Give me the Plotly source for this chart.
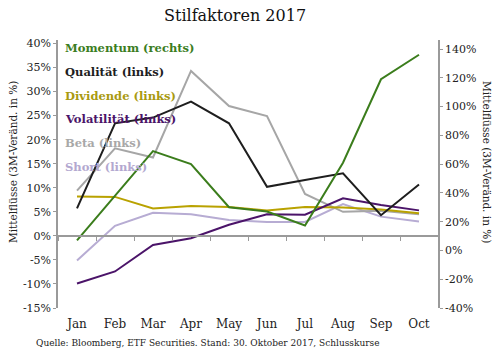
import plotly.graph_objects as go

months = ["Jan", "Feb", "Mar", "Apr", "May", "Jun", "Jul", "Aug", "Sep", "Oct"]
momentum = [7, 38, 69, 60, 30, 27, 17.4, 61, 119, 136]          # right axis
qualitaet = [5.7, 23.4, 24.6, 27.9, 23.4, 10.2, 11.6, 13.0, 4.3, 10.7]
dividende = [8.2, 8.1, 5.7, 6.2, 6.0, 5.3, 6.0, 5.9, 5.5, 4.7]
volatilitaet = [-9.9, -7.4, -1.9, -0.5, 2.3, 4.5, 4.4, 7.8, 6.4, 5.3]
beta = [9.4, 18.2, 16.3, 34.3, 27.0, 24.9, 8.7, 5.0, 5.2, 4.5]
short = [-5.1, 2.1, 4.8, 4.5, 3.3, 2.9, 2.9, 6.6, 4.0, 3.0]

left_ticks = [-15, -10, -5, 0, 5, 10, 15, 20, 25, 30, 35, 40]
right_ticks = [-40, -20, 0, 20, 40, 60, 80, 100, 120, 140]

series = [
    ("Short (links)", short, "#b7acd3", "#b3a8d0", "y"),
    ("Beta (links)", beta, "#a6a6a6", "#a8a8a8", "y"),
    ("Dividende (links)", dividende, "#b9a200", "#a99a10", "y"),
    ("Volatilität (links)", volatilitaet, "#4b1469", "#4b1469", "y"),
    ("Qualität (links)", qualitaet, "#1e1e1e", "#1e1e1e", "y"),
    ("Momentum (rechts)", momentum, "#3b7d1c", "#3b7d22", "y2"),
]

FONT = "DejaVu Serif"
W, H = 500, 353
L, R, T, B = 58, 62, 40, 45
ymin, ymax = -15, 40 + 3.5 / 4.81
y2min, y2max = -40, 140 + 9 / 1.439

fig = go.Figure()
for name, vals, col, _, ax in series:
    fig.add_trace(go.Scatter(x=months, y=vals, mode="lines", name=name,
                             line=dict(color=col, width=2), yaxis=ax,
                             showlegend=False))

frac0 = (0 - ymin) / (ymax - ymin)

fig.update_layout(
    width=W, height=H,
    margin=dict(l=L, r=R, t=T, b=B),
    paper_bgcolor="white", plot_bgcolor="white",
    font=dict(family=FONT, size=11, color="#222"),
    showlegend=False,
    xaxis=dict(type="category", range=[-0.5, 9.5], showline=False, showgrid=False,
               ticks="", zeroline=False,
               tickfont=dict(family=FONT, size=12, color="#222"),
               ticklabelstandoff=7),
    xaxis2=dict(type="category", range=[-0.5, 9.5], overlaying="x", anchor="free",
                position=frac0, showline=True, linecolor="#9a9a9a", linewidth=1.5,
                showticklabels=False, ticks="outside", ticklen=4, tickcolor="#9a9a9a",
                tickson="boundaries", showgrid=False, zeroline=False,
                matches="x"),
    yaxis=dict(range=[ymin, ymax], tickvals=left_ticks,
               ticktext=[f"{v}%" for v in left_ticks],
               showline=True, linecolor="#9a9a9a", linewidth=1.5,
               ticks="outside", ticklen=3, tickcolor="#9a9a9a",
               showgrid=False, zeroline=False,
               tickfont=dict(family=FONT, size=11, color="#222")),
    yaxis2=dict(range=[y2min, y2max], tickvals=right_ticks,
                ticktext=[f"{v}%" for v in right_ticks],
                overlaying="y", side="right", anchor="x",
                showline=True, linecolor="#9a9a9a", linewidth=1.5,
                ticks="outside", ticklen=3, tickcolor="#9a9a9a",
                showgrid=False, zeroline=False,
                tickfont=dict(family=FONT, size=11, color="#222")),
)
# dummy trace to activate xaxis2
fig.add_trace(go.Scatter(x=months, y=[None] * len(months), xaxis="x2", yaxis="y",
                         showlegend=False, hoverinfo="skip"))

def px_x(x):
    return (x - L) / (W - L - R)

def px_y(y):
    return (H - B - y) / (H - T - B)

ann = []
ann.append(dict(text="Stilfaktoren 2017", x=px_x(235), y=px_y(16), xref="paper",
                yref="paper", showarrow=False, xanchor="center", yanchor="middle",
                font=dict(family=FONT, size=16, color="#111")))
# Legend as coloured text
legend_order = ["Momentum (rechts)", "Qualität (links)", "Dividende (links)",
                "Volatilität (links)", "Beta (links)", "Short (links)"]
lookup = {s[0]: s[3] for s in series}
for i, nm in enumerate(legend_order):
    ann.append(dict(text=f"<b>{nm}</b>", x=px_x(63), y=px_y(48 + i * 23.8),
                    xref="paper", yref="paper", showarrow=False,
                    xanchor="left", yanchor="middle",
                    font=dict(family=FONT, size=11.5, color=lookup[nm])))
ann.append(dict(text="Mittelflüsse (3M-Veränd. in %)", x=px_x(13), y=px_y(162),
                xref="paper", yref="paper", showarrow=False, textangle=-90,
                xanchor="center", yanchor="middle",
                font=dict(family=FONT, size=10.5, color="#222")))
ann.append(dict(text="Mittelflüsse (3M-Veränd. in %)", x=px_x(487), y=px_y(162),
                xref="paper", yref="paper", showarrow=False, textangle=90,
                xanchor="center", yanchor="middle",
                font=dict(family=FONT, size=10.5, color="#222")))
ann.append(dict(text="Quelle: Bloomberg, ETF Securities. Stand: 30. Oktober 2017, Schlusskurse",
                x=px_x(208), y=px_y(343), xref="paper", yref="paper", showarrow=False,
                xanchor="center", yanchor="middle",
                font=dict(family=FONT, size=9, color="#222")))
fig.update_layout(annotations=ann)

fig.write_html("out.html")
